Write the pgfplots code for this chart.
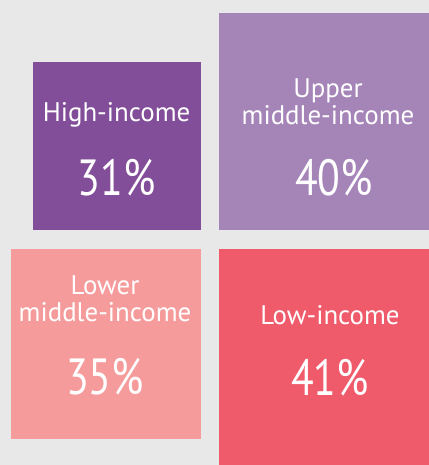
\documentclass[border=0pt]{standalone}
\usepackage{pgfplots}
\pgfplotsset{compat=1.18}
\usepackage{fontspec}
\setmainfont{PT Sans}
\definecolor{bggray}{HTML}{E8E8E8}
\definecolor{chigh}{HTML}{824E99}
\definecolor{cupper}{HTML}{A584B8}
\definecolor{clower}{HTML}{F59B9B}
\definecolor{clow}{HTML}{EF5B6B}
\newcommand{\numtxt}[1]{\scalebox{0.82}[1]{#1}}
\tikzset{lab/.style={text=white, align=center, font=\fontsize{27}{27}\selectfont, inner sep=0pt},
         num/.style={text=white, align=center, font=\fontsize{51}{53}\selectfont, inner sep=0pt}}
\begin{document}
\begin{tikzpicture}
\begin{axis}[
  scale only axis,
  width=429bp, height=465bp,
  xmin=-38.71, xmax=40.37,
  ymin=-41.57, ymax=44.15,
  axis lines=none, ticks=none,
  axis background/.style={fill=bggray},
  clip=true,
]
% High-income 31%
\addplot[fill=chigh, draw=none, xshift=-9bp, yshift=9.5bp] coordinates {(-31,0) (0,0) (0,31) (-31,31)} --cycle;
% Upper middle-income 40%
\addplot[fill=cupper, draw=none, xshift=9bp, yshift=9.5bp] coordinates {(0,0) (40,0) (40,40) (0,40)} --cycle;
% Lower middle-income 35%
\addplot[fill=clower, draw=none, xshift=-9bp, yshift=-9.5bp] coordinates {(-35,-35) (0,-35) (0,0) (-35,0)} --cycle;
% Low-income 41%
\addplot[fill=clow, draw=none, xshift=9bp, yshift=-9.5bp] coordinates {(0,-41) (41,-41) (41,0) (0,0)} --cycle;

\node[lab] at (axis cs:-17.23,22.95) {High-income};
\node[num] at (axis cs:-17.23,11.34) {\numtxt{31\%}};
\node[lab] at (axis cs:21.75,25.44) {Upper\\middle-income};
\node[num] at (axis cs:22.86,11.34) {\numtxt{40\%}};
\node[lab] at (axis cs:-19.35,-10.97) {Lower\\middle-income};
\node[num] at (axis cs:-19.35,-25.35) {\numtxt{35\%}};
\node[lab] at (axis cs:22.12,-13.92) {Low-income};
\node[num] at (axis cs:22.12,-25.53) {\numtxt{41\%}};
\end{axis}
\pgfresetboundingbox
\path (current axis.south west) rectangle (current axis.north east);
\end{tikzpicture}
\end{document}
